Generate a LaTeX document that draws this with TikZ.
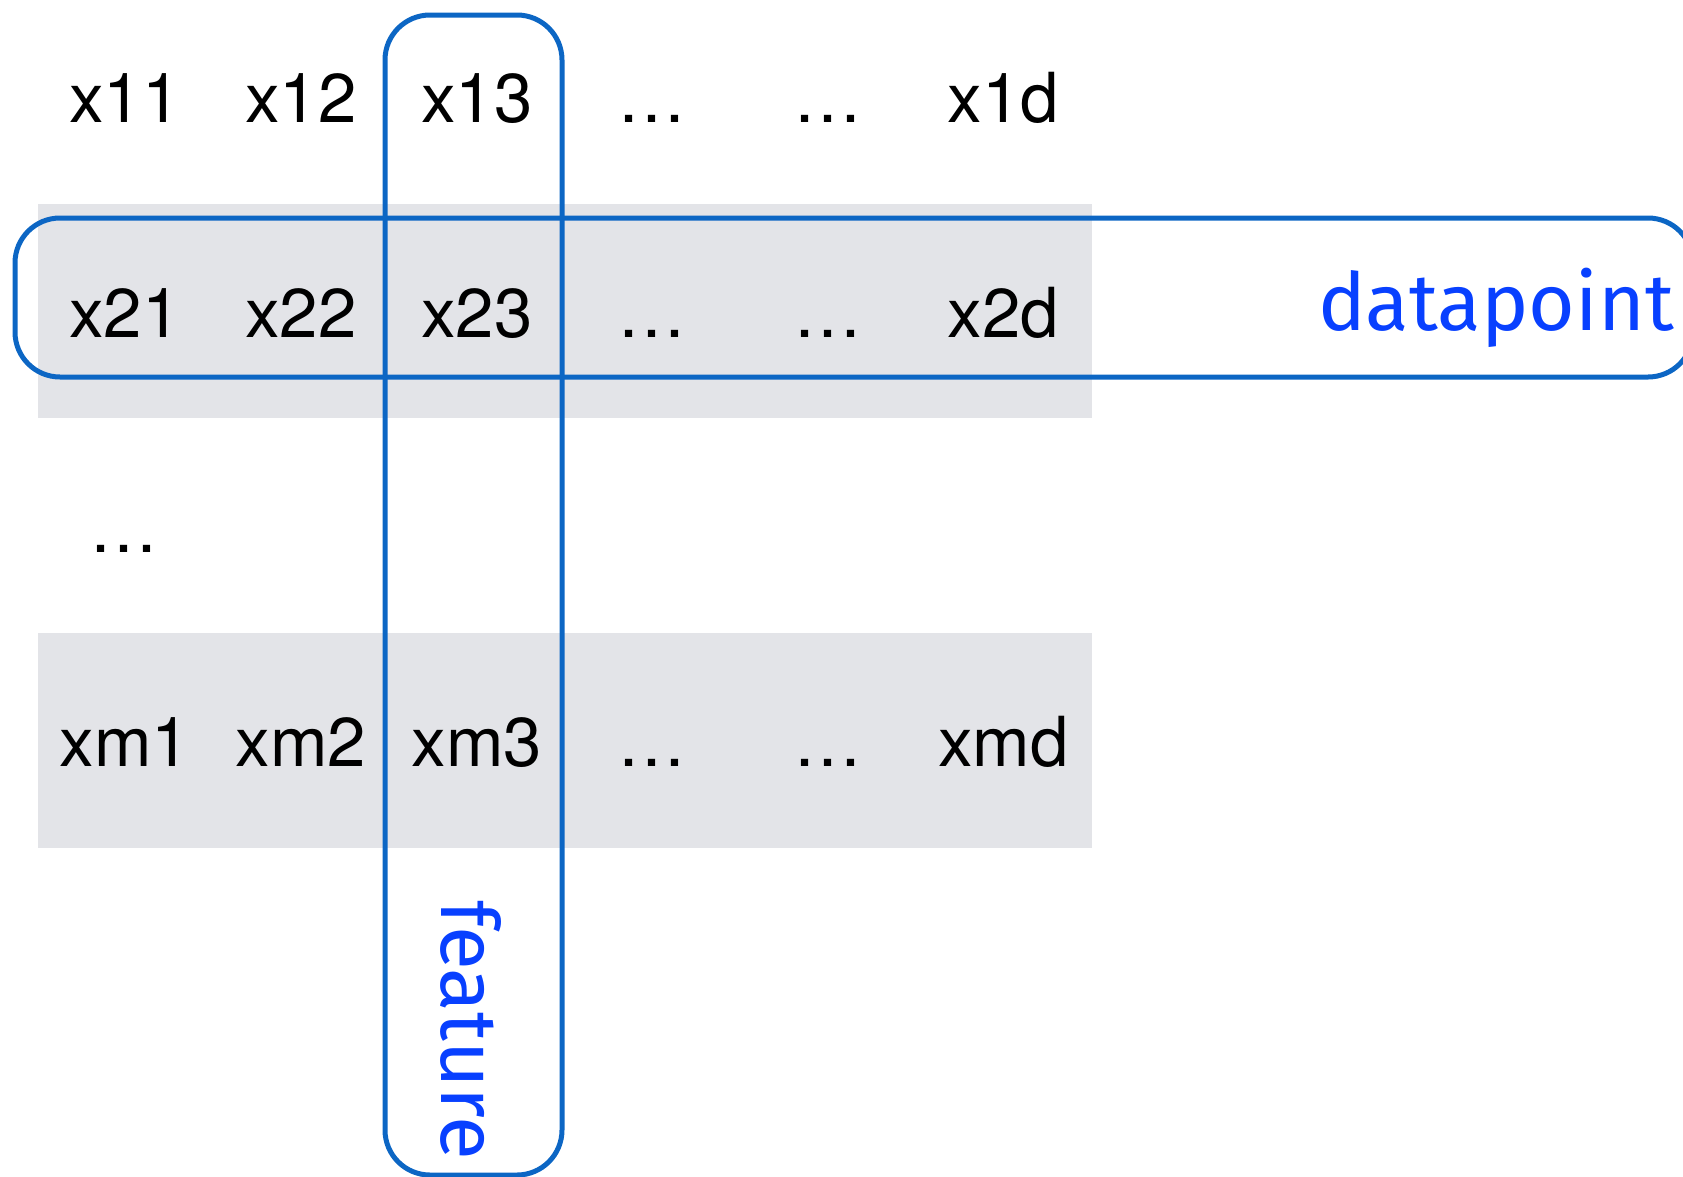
\documentclass[tikz,border=0pt]{standalone}
\usepackage{fontspec}
\setmainfont{TeX Gyre Heros}
\newfontfamily\labelfont{Fira Sans}
\definecolor{bandgray}{RGB}{227,228,232}
\definecolor{boxblue}{RGB}{12,102,196}
\definecolor{textblue}{RGB}{8,64,255}
\begin{document}
\begin{tikzpicture}[x=1pt,y=-1pt,
  cell/.style={anchor=base,inner sep=0pt,font=\fontsize{69}{84}\selectfont},
  lbl/.style={anchor=base,inner sep=0pt,text=textblue,font=\labelfont\fontsize{80}{96}\selectfont},
  hlbox/.style={draw=boxblue,line width=5pt,rounded corners=45pt}]
\useasboundingbox (0,0) rectangle (1683,1176);
\clip (0,0) rectangle (1683,1176);
% gray bands
\fill[bandgray] (37.6,204) rectangle (1091.5,417.5);
\fill[bandgray] (37.6,633) rectangle (1091.5,848);
% row 1
\node[cell] (c11) at (125,122.7) {x11};
\node[cell] (c12) at (301,122.7) {x12};
\node[cell] (c13) at (477,122.7) {x13};
\node[cell] (c14) at (652,122.7) {…};
\node[cell] (c15) at (828,122.7) {…};
\node[cell] (c1d) at (1003.5,122.7) {x1d};
% row 2
\node[cell] (c21) at (125,337.3) {x21};
\node[cell] (c22) at (301,337.3) {x22};
\node[cell] (c23) at (477,337.3) {x23};
\node[cell] (c24) at (652,337.3) {…};
\node[cell] (c25) at (828,337.3) {…};
\node[cell] (c2d) at (1003.5,337.3) {x2d};
% row 3
\node[cell] (c31) at (124,552.5) {…};
% row m
\node[cell] (cm1) at (125,766.7) {xm1};
\node[cell] (cm2) at (301,766.7) {xm2};
\node[cell] (cm3) at (477,766.7) {xm3};
\node[cell] (cm4) at (652,766.7) {…};
\node[cell] (cm5) at (828,766.7) {…};
\node[cell] (cmd) at (1003.5,766.7) {xmd};
% highlight boxes
\draw[hlbox] (385,15) rectangle (562,1175);
\draw[hlbox] (15,218) rectangle (1693,377);
% labels
\node[lbl] (dp) at (1496,330.7) {datapoint};
\node[lbl,rotate=-90] (ft) at (441.7,1030) {feature};
\end{tikzpicture}
\end{document}
